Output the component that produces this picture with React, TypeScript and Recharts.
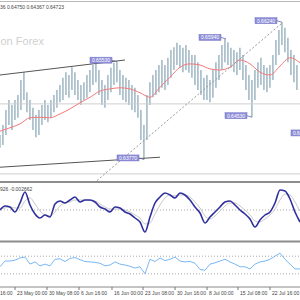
import React from 'react';
import { ComposedChart, Bar, Line, XAxis, YAxis, ReferenceLine, ReferenceDot } from 'recharts';

// ---- data (time index in chart bars, prices) ----
const PRICE_STEP = 3;
const priceHigh = [
  0.6421, 0.6439, 0.6466, 0.6484, 0.6475, 0.6484, 0.6493, 0.6520, 0.6534, 0.6498,
  0.6484, 0.6470, 0.6457, 0.6466, 0.6475, 0.6484, 0.6475, 0.6484, 0.6493, 0.6502,
  0.6511, 0.6524, 0.6534, 0.6529, 0.6543, 0.6534, 0.6520, 0.6511, 0.6516, 0.6529,
  0.6538, 0.6547, 0.6551, 0.6538, 0.6520, 0.6511, 0.6529, 0.6542, 0.6551, 0.6553,
  0.6538, 0.6529, 0.6524, 0.6520, 0.6511, 0.6506, 0.6493, 0.6466, 0.6439, 0.6493,
  0.6516, 0.6529, 0.6538, 0.6547, 0.6556, 0.6547, 0.6560, 0.6574, 0.6579, 0.6587,
  0.6583, 0.6578, 0.6583, 0.6574, 0.6565, 0.6565, 0.6552, 0.6538, 0.6524, 0.6529,
  0.6520, 0.6538, 0.6552, 0.6565, 0.6583, 0.6594, 0.6588, 0.6578, 0.6574, 0.6570,
  0.6578, 0.6565, 0.6547, 0.6529, 0.6520, 0.6538, 0.6552, 0.6560, 0.6547, 0.6542,
  0.6547, 0.6565, 0.6592, 0.6610, 0.6624, 0.6614, 0.6596, 0.6574, 0.6565, 0.6547,
];
const priceLow = [
  0.6398, 0.6403, 0.6421, 0.6439, 0.6430, 0.6448, 0.6452, 0.6466, 0.6484, 0.6462,
  0.6448, 0.6430, 0.6417, 0.6421, 0.6439, 0.6448, 0.6444, 0.6452, 0.6462, 0.6470,
  0.6480, 0.6484, 0.6493, 0.6488, 0.6502, 0.6493, 0.6484, 0.6475, 0.6484, 0.6488,
  0.6498, 0.6511, 0.6516, 0.6493, 0.6475, 0.6470, 0.6484, 0.6498, 0.6511, 0.6516,
  0.6493, 0.6484, 0.6480, 0.6475, 0.6466, 0.6462, 0.6452, 0.6412, 0.6377, 0.6412,
  0.6475, 0.6489, 0.6493, 0.6498, 0.6506, 0.6502, 0.6511, 0.6524, 0.6538, 0.6547,
  0.6542, 0.6534, 0.6538, 0.6533, 0.6524, 0.6511, 0.6502, 0.6493, 0.6484, 0.6484,
  0.6480, 0.6488, 0.6506, 0.6520, 0.6538, 0.6552, 0.6547, 0.6542, 0.6534, 0.6529,
  0.6538, 0.6520, 0.6502, 0.6484, 0.6453, 0.6484, 0.6506, 0.6511, 0.6502, 0.6498,
  0.6506, 0.6520, 0.6547, 0.6565, 0.6583, 0.6570, 0.6552, 0.6529, 0.6516, 0.6502,
];
const maTimes = [0, 10, 20, 30, 40, 50, 60, 70, 80, 90, 100, 110, 120, 130, 140, 150, 160, 170, 180, 190, 200, 210, 220, 230, 240, 250, 260, 270, 280, 290, 300];
const maValues = [
  0.6428, 0.6434, 0.6441, 0.6452, 0.6453, 0.6452, 0.6459, 0.6468, 0.6479, 0.6489,
  0.6500, 0.6504, 0.6506, 0.6504, 0.6497, 0.6489, 0.6507, 0.6525, 0.6543, 0.6549,
  0.6547, 0.6540, 0.6538, 0.6543, 0.6556, 0.6549, 0.6534, 0.6529, 0.6545, 0.6560, 0.6551,
];
const OSC_STEP = 5;
const macdMain = [
  0.0000, 0.0008, 0.0006, -0.0004, 0.0014, 0.0036, 0.0010, -0.0008, -0.0016, -0.0010,
  -0.0014, 0.0012, 0.0018, 0.0014, 0.0020, 0.0026, 0.0016, 0.0020, 0.0020, 0.0016,
  0.0006, 0.0002, -0.0004, 0.0006, 0.0004, -0.0004, -0.0008, -0.0016, -0.0024, -0.0044,
  -0.0014, 0.0014, 0.0026, 0.0034, 0.0030, 0.0024, 0.0034, 0.0030, 0.0020, 0.0006,
  -0.0006, -0.0026, -0.0014, -0.0004, 0.0006, 0.0016, 0.0018, 0.0010, 0.0000, -0.0008,
  -0.0018, -0.0034, -0.0020, -0.0010, -0.0004, 0.0014, 0.0040, 0.0038, 0.0022, -0.0004, -0.0024,
];
const macdSignal = [
  0.0002, 0.0004, 0.0006, 0.0004, 0.0004, 0.0018, 0.0024, 0.0012, -0.0002, -0.0010,
  -0.0012, -0.0004, 0.0008, 0.0014, 0.0016, 0.0020, 0.0020, 0.0020, 0.0019, 0.0018,
  0.0012, 0.0006, 0.0002, 0.0002, 0.0002, 0.0000, -0.0004, -0.0010, -0.0016, -0.0028,
  -0.0026, -0.0008, 0.0010, 0.0024, 0.0030, 0.0028, 0.0030, 0.0030, 0.0026, 0.0016,
  0.0004, -0.0012, -0.0018, -0.0012, -0.0002, 0.0008, 0.0014, 0.0014, 0.0008, 0.0000,
  -0.0010, -0.0022, -0.0024, -0.0018, -0.0010, 0.0002, 0.0020, 0.0032, 0.0030, 0.0016, -0.0002,
];
const rsiValues = [
  46, 59, 59, 61, 66, 68, 52, 57, 48, 52,
  48, 63, 64, 58, 65, 67, 62, 58, 57, 56,
  54, 48, 50, 57, 52, 50, 47, 43, 46, 30,
  63, 58, 66, 60, 63, 68, 59, 57, 58, 54,
  40, 38, 52, 55, 59, 63, 57, 52, 46, 46,
  41, 52, 57, 59, 63, 70, 77, 63, 52, 41, 41,
];
const tickTimes = [-2, 15, 47, 79, 112, 143, 175, 207, 238, 270];
const tickLabels = ['16:00', '23 May 00:00', '30 May 08:00', '6 Jun 16:00', '16 Jun 00:00', '23 Jun 08:00', '30 Jun 16:00', '8 Jul 00:00', '15 Jul 08:00', '22 Jul 16:00'];
const levelTimes = [117, 226, 282, 144, 252, 318];
const levelPrices = [0.6553, 0.6594, 0.6624, 0.6377, 0.6453, 0.6422];
const upperTrend = [[0, 0.6529], [125, 0.6556]];
const lowerTrend = [[0, 0.6363], [160, 0.6381]];
const channelLine = [[97, 0.6339], [283, 0.6624]];
const horizontalLevels = [0.6477, 0.6351];
const headerText = '36 0.64750 0.64367 0.64723';
const macdHeader = '926 -0.002662';
const watermark = 'on Forex';

const priceData = priceHigh.map((h, i) => ({ t: i * PRICE_STEP, range: [priceLow[i], h] }));
const maData = maTimes.map((t, i) => ({ t, ma: maValues[i] }));
const oscData = macdMain.map((m, i) => ({ t: i * OSC_STEP, macd: m, signal: macdSignal[i], rsi: rsiValues[i] }));

const X_DOMAIN: [number, number] = [-20, 320];
const CW = 340;
const FONT = 'Liberation Sans, Arial, sans-serif';

const LevelTag = (props: any) => {
  const { cx, cy, text } = props;
  if (cx == null || cy == null) return null;
  const right = cx - 5;
  const mid = cy - 1.5;
  return (
    <g>
      <line x1={right} y1={mid} x2={cx} y2={cy} stroke="#6a6aa8" strokeWidth={0.8} />
      <rect x={right - 22} y={mid - 3} width={22} height={6} fill="#8e8ed8" stroke="#7272c4" strokeWidth={0.5} />
      <text x={right - 11} y={mid + 1.8} textAnchor="middle" fontSize={5} fill="#ffffff" fontFamily={FONT}>{text}</text>
    </g>
  );
};

const AxisTick = (props: any) => {
  const { x, y, payload } = props;
  const idx = tickTimes.indexOf(payload.value);
  return (
    <text x={x + 2} y={y + 5} fontSize={5} fill="#444" fontFamily={FONT} textAnchor="start">
      {tickLabels[idx]}
    </text>
  );
};

export default function App() {
  return (
    <div style={{ position: 'absolute', left: 0, top: 0, width: 300, height: 300, overflow: 'hidden', background: '#fff' }}>
      <svg width={300} height={300} style={{ position: 'absolute', left: 0, top: 0 }}>
        <text x={0.5} y={45} fontSize={11} fill="#cfcfcf" fontFamily={FONT}>{watermark}</text>
      </svg>

      <div style={{ position: 'absolute', left: -20, top: 3 }}>
        <ComposedChart width={CW} height={178} data={priceData} margin={{ top: 0, right: 0, bottom: 0, left: 0 }}>
          <XAxis dataKey="t" type="number" domain={X_DOMAIN} hide allowDataOverflow />
          <YAxis type="number" domain={[0.63382, 0.66586]} hide allowDataOverflow />
          {horizontalLevels.map((v) => (
            <ReferenceLine key={v} y={v} stroke="#cfcfcf" strokeWidth={1} />
          ))}
          <Bar dataKey="range" fill="#5d869c" barSize={2.4} isAnimationActive={false} />
          <Line data={maData} dataKey="ma" type="monotone" stroke="#f27a7a" strokeWidth={1} dot={false} isAnimationActive={false} />
          <ReferenceLine segment={upperTrend.map(([x, y]) => ({ x, y }))} stroke="#555" strokeWidth={1} />
          <ReferenceLine segment={lowerTrend.map(([x, y]) => ({ x, y }))} stroke="#555" strokeWidth={1} />
          <ReferenceLine segment={channelLine.map(([x, y]) => ({ x, y }))} stroke="#999" strokeWidth={1} strokeDasharray="2 2" />
          {levelTimes.map((t, i) => (
            <ReferenceDot
              key={t}
              x={t}
              y={levelPrices[i]}
              r={1}
              shape={(p: any) => <LevelTag {...p} text={levelPrices[i].toFixed(5)} />}
            />
          ))}
        </ComposedChart>
      </div>

      <div style={{ position: 'absolute', left: -20, top: 184 }}>
        <ComposedChart width={CW} height={56} data={oscData} margin={{ top: 0, right: 0, bottom: 0, left: 0 }}>
          <XAxis dataKey="t" type="number" domain={X_DOMAIN} hide allowDataOverflow />
          <YAxis type="number" domain={[-0.006, 0.0052]} hide allowDataOverflow />
          <ReferenceLine y={0} stroke="#aaa" strokeDasharray="1 2" />
          <Line dataKey="signal" type="monotone" stroke="#c8c8c8" strokeWidth={1} dot={false} isAnimationActive={false} />
          <Line dataKey="macd" type="monotone" stroke="#2f2f9e" strokeWidth={1.6} dot={false} isAnimationActive={false} />
        </ComposedChart>
      </div>

      <div style={{ position: 'absolute', left: -20, top: 243 }}>
        <ComposedChart width={CW} height={56} data={oscData} margin={{ top: 0, right: 0, bottom: 0, left: 0 }}>
          <XAxis
            dataKey="t"
            type="number"
            domain={X_DOMAIN}
            ticks={tickTimes}
            interval={0}
            height={12}
            tickSize={3}
            tickMargin={0}
            axisLine={{ stroke: '#888' }}
            tickLine={{ stroke: '#777' }}
            tick={<AxisTick />}
            allowDataOverflow
          />
          <YAxis type="number" domain={[0, 100]} hide allowDataOverflow />
          <ReferenceLine y={70} stroke="#aaa" strokeDasharray="1 2" />
          <ReferenceLine y={30} stroke="#aaa" strokeDasharray="1 2" />
          <Line dataKey="rsi" type="linear" stroke="#7ab8f5" strokeWidth={1} dot={false} isAnimationActive={false} />
        </ComposedChart>
      </div>

      <svg width={300} height={300} style={{ position: 'absolute', left: 0, top: 0, pointerEvents: 'none' }}>
        <line x1={0} y1={1.5} x2={300} y2={1.5} stroke="#b8b8b8" strokeWidth={1} />
        <text x={0} y={8.5} fontSize={5} fill="#444" fontFamily={FONT}>{headerText}</text>
        <rect x={0} y={181} width={300} height={2} fill="#8c8c8c" />
        <text x={0} y={190.5} fontSize={5} fill="#444" fontFamily={FONT}>{macdHeader}</text>
        <rect x={0} y={240.5} width={300} height={2} fill="#8c8c8c" />
      </svg>
    </div>
  );
}
